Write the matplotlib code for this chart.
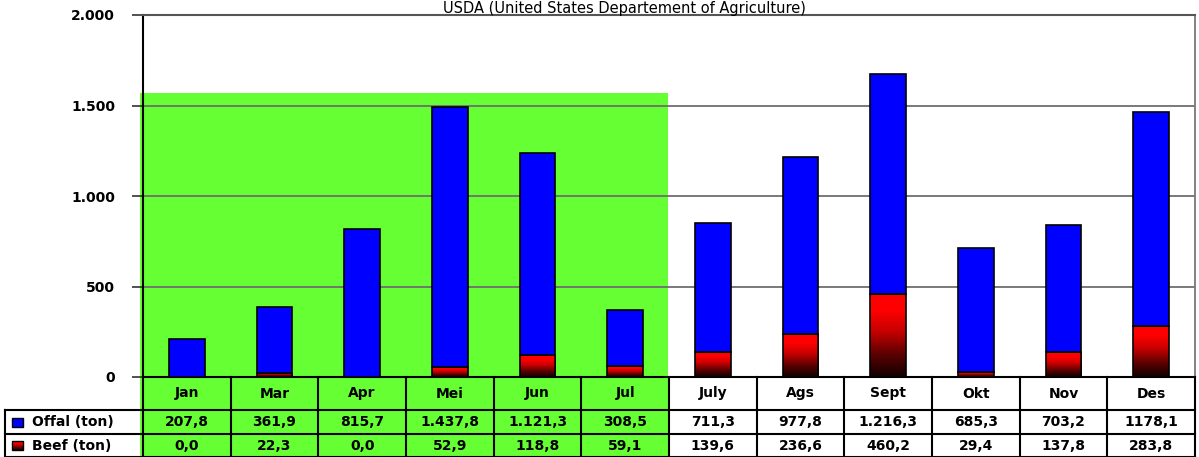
import numpy as np
import matplotlib
matplotlib.use("Agg")
import matplotlib.pyplot as plt
import matplotlib.transforms as mtransforms
from matplotlib.colors import LinearSegmentedColormap
from matplotlib.patches import Rectangle

months = ["Jan", "Mar", "Apr", "Mei", "Jun", "Jul",
          "July", "Ags", "Sept", "Okt", "Nov", "Des"]
offal_labels = ["207,8", "361,9", "815,7", "1.437,8", "1.121,3", "308,5",
                "711,3", "977,8", "1.216,3", "685,3", "703,2", "1178,1"]
beef_labels = ["0,0", "22,3", "0,0", "52,9", "118,8", "59,1",
               "139,6", "236,6", "460,2", "29,4", "137,8", "283,8"]
yticks = [0, 500, 1000, 1500, 2000]
ytick_labels = ["0", "500", "1.000", "1.500", "2.000"]
green_top = 1570      # highlighted period (first six columns)
n_green = 6


def to_num(s):
    return float(s.replace(".", "").replace(",", "."))


offal = np.array([to_num(s) for s in offal_labels])
beef = np.array([to_num(s) for s in beef_labels])
x = np.arange(len(months))

W, H = 1199, 457
fig = plt.figure(figsize=(W / 100, H / 100), dpi=100)
ax = fig.add_axes([143 / W, 80 / H, 1052 / W, 362 / H])
ax.set_xlim(-0.5, len(months) - 0.5)
ax.set_ylim(0, 2000)

colw = 1052 / len(months)          # px per column
px_x = 1 / colw                    # data units per px (x)
px_y = 1 / 362                     # axes fraction per px (y)
trans = mtransforms.blended_transform_factory(ax.transData, ax.transAxes)

green = "#66ff33"
bold = dict(fontfamily="DejaVu Sans", fontweight="bold", fontsize=10)

# green highlight behind the first months, running down through the table
ax.add_patch(Rectangle((-0.5 - 3 * px_x, -80 * px_y),
                       n_green + 2 * px_x,
                       green_top / 2000 + 80 * px_y,
                       transform=trans, facecolor=green, edgecolor="none",
                       zorder=0.2, clip_on=False))

# grid / frame
ax.set_yticks(yticks)
ax.set_yticklabels(ytick_labels, **bold)
ax.set_xticks([])
ax.tick_params(axis="y", length=8, width=1.2, color="#333333", pad=12)
ax.yaxis.grid(True, color="#6e6e6e", lw=1.3, zorder=0.5)
ax.set_axisbelow(True)
ax.spines["left"].set_linewidth(1.5)
ax.spines["bottom"].set_linewidth(1.5)
ax.spines["top"].set_color("#555555")
ax.spines["top"].set_linewidth(1.5)
ax.spines["right"].set_color("#777777")
ax.spines["right"].set_linewidth(1.3)

# stacked bars: beef (red->black gradient) under offal (blue)
w = 0.41
red_cmap = LinearSegmentedColormap.from_list(
    "beef", [(0, "#120000"), (0.25, "#550000"), (0.55, "#c80000"),
             (0.8, "#ff0000"), (1, "#ff0000")])
grad = np.linspace(0, 1, 256).reshape(-1, 1)

beef_bars = ax.bar(x, beef, w, facecolor="none", edgecolor="black",
                   lw=1.2, zorder=3)
for xi, b, bar in zip(x, beef, beef_bars):
    if b <= 0:
        continue
    im = ax.imshow(grad, cmap=red_cmap, aspect="auto", origin="lower",
                   extent=(xi - w / 2, xi + w / 2, 0, b), zorder=2.5,
                   interpolation="bilinear")
    im.set_clip_path(bar)
ax.bar(x, offal, w, bottom=beef, color="#0000ff", edgecolor="black",
       lw=1.2, zorder=3)
ax.set_xlim(-0.5, len(months) - 0.5)
ax.set_ylim(0, 2000)

# data table under the plot
rows = [0, -33 * px_y, -57 * px_y, -80 * px_y]
left = -0.5 - 138 * px_x
lc = "black"
for i in range(len(months) + 1):
    ax.plot([i - 0.5, i - 0.5], [0, rows[-1]], color=lc, lw=1.5,
            transform=trans, clip_on=False, zorder=4)
ax.plot([left, left], [rows[1], rows[-1]], color=lc, lw=1.5,
        transform=trans, clip_on=False, zorder=4)
for r in rows[1:]:
    ax.plot([left, len(months) - 0.5], [r, r], color=lc, lw=1.5,
            transform=trans, clip_on=False, zorder=4)

mid = [(rows[k] + rows[k + 1]) / 2 for k in range(3)]
for i in range(len(months)):
    ax.text(i, mid[0], months[i], ha="center", va="center",
            transform=trans, **bold)
    ax.text(i, mid[1], offal_labels[i], ha="center", va="center",
            transform=trans, **bold)
    ax.text(i, mid[2], beef_labels[i], ha="center", va="center",
            transform=trans, **bold)

# row headers with legend keys
key_x = -0.5 - 131 * px_x
key_w = 11 * px_x
key_h = 9 * px_y
ax.add_patch(Rectangle((key_x, mid[1] - key_h / 2), key_w, key_h,
                       transform=trans, facecolor="#0000ff",
                       edgecolor="black", lw=1, clip_on=False, zorder=5))
y0 = (mid[2] - key_h / 2) * 2000
y1 = (mid[2] + key_h / 2) * 2000
key = Rectangle((key_x, y0), key_w, y1 - y0, facecolor="none",
                edgecolor="black", lw=1, clip_on=False, zorder=6)
ax.add_patch(key)
kim = ax.imshow(grad, cmap=red_cmap, aspect="auto", origin="lower",
                extent=(key_x, key_x + key_w, y0, y1), zorder=5)
kim.set_clip_on(False)
ax.text(-0.5 - 111 * px_x, mid[1], "Offal (ton)", ha="left", va="center",
        transform=trans, **bold)
ax.text(-0.5 - 111 * px_x, mid[2], "Beef (ton)", ha="left", va="center",
        transform=trans, **bold)
ax.set_xlim(-0.5, len(months) - 0.5)
ax.set_ylim(0, 2000)

fig.text(624 / W, 1 - 1 / H, "USDA (United States Departement of Agriculture)",
         ha="center", va="top", fontfamily="DejaVu Sans", fontsize=10.5)

fig.savefig("out.png", dpi=100)
